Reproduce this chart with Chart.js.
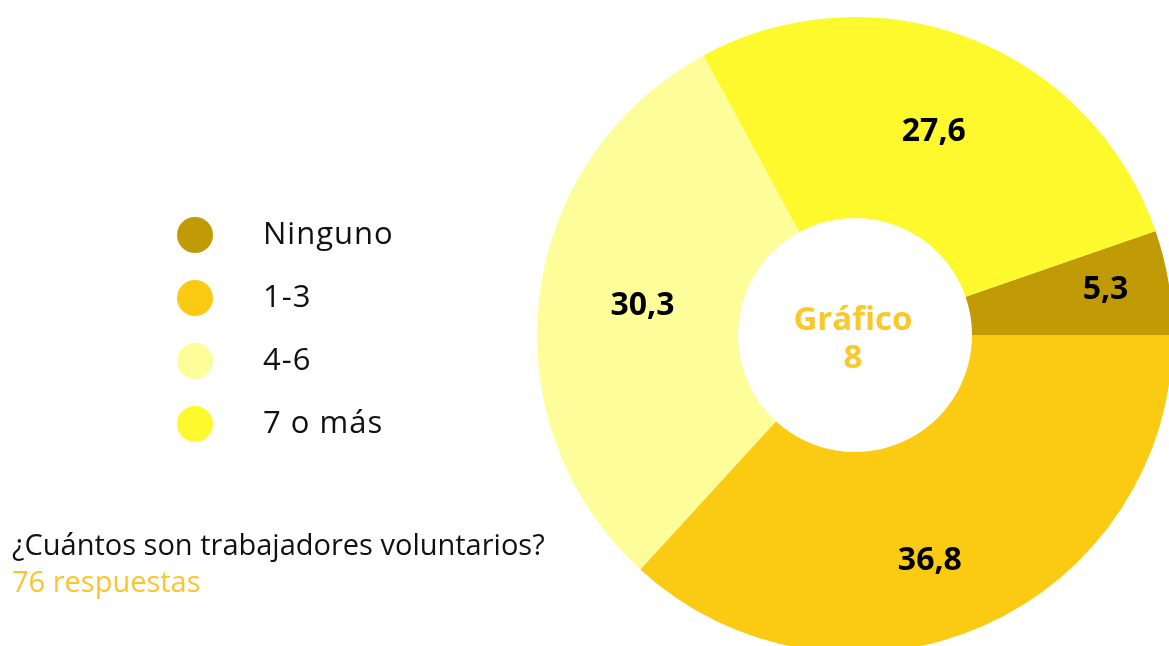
<!DOCTYPE html>
<html>
<head>
<meta charset="utf-8">
<script src="https://cdn.jsdelivr.net/npm/chart.js@4"></script>
<style>
  html, body { margin: 0; padding: 0; background: #fff; }
  body { width: 1169px; height: 646px; overflow: hidden; position: relative; font-family: "Open Sans", sans-serif; }
  #wrap { position: absolute; left: 0; top: 0; width: 1180px; height: 700px; }
  #legend { position: absolute; left: 177px; top: 217px; }
  .row { position: relative; height: 63px; }
  .dot { position: absolute; left: 0; top: 0; width: 36px; height: 36px; border-radius: 50%; }
  .lbl { position: absolute; left: 86px; top: -5px; font-size: 31px; letter-spacing: 1px; color: #111; white-space: nowrap; line-height: 40px; }
  #caption { position: absolute; left: 12px; top: 525px; font-size: 29px; line-height: 37px; color: #111; white-space: nowrap; }
  #caption .sub { color: #fac52f; }
</style>
</head>
<body>
<div id="wrap"><canvas id="chart"></canvas></div>
<div id="legend"></div>
<div id="caption">¿Cuántos son trabajadores voluntarios?<br><span class="sub">76 respuestas</span></div>
<script>
// Data
const categories = ['Ninguno', '1-3', '4-6', '7 o más'];
const values = [5.3, 36.8, 30.3, 27.6];
const colors = ['#c19b05', '#fbcb14', '#fdfd99', '#fdf92c'];
const centerTitle = ['Gráfico', '8'];

// Format number with comma decimal
const formatValue = (v) => v.toFixed(1).replace('.', ',');

// Build legend
const legendEl = document.getElementById('legend');
categories.forEach((name, i) => {
    const row = document.createElement('div');
    row.className = 'row';
    row.innerHTML = `<div class="dot" style="background:${colors[i]}"></div><div class="lbl">${name}</div>`;
    legendEl.appendChild(row);
});

// Slice labels and center text
const labelPlugin = {
    id: 'sliceLabels',
    afterDatasetsDraw(chart) {
        const ctx = chart.ctx;
        const meta = chart.getDatasetMeta(0);
        const extra = [37, 20, -3, 0];
        const turn = [-0.01, 0.094, 0.014, 0];
        ctx.save();
        ctx.textAlign = 'center';
        ctx.textBaseline = 'middle';
        ctx.fillStyle = '#000';
        ctx.font = 'bold 32px "Open Sans"';
        meta.data.forEach((arc, i) => {
            const p = arc.getProps(['x', 'y', 'startAngle', 'endAngle', 'innerRadius', 'outerRadius'], true);
            const mid = (p.startAngle + p.endAngle) / 2 + turn[i];
            const r = (p.innerRadius + p.outerRadius) / 2 + extra[i];
            ctx.fillText(formatValue(values[i]), p.x + Math.cos(mid) * r, p.y + Math.sin(mid) * r);
        });
        const c = meta.data[0];
        ctx.textBaseline = 'alphabetic';
        ctx.fillStyle = '#f9c92c';
        ctx.font = 'bold 33px "Open Sans"';
        ctx.fillText(centerTitle[0], c.x - 2, c.y - 5);
        ctx.fillText(centerTitle[1], c.x - 2, c.y + 33);
        ctx.restore();
    }
};

const ctx = document.getElementById('chart').getContext('2d');
const chart = new Chart(ctx, {
    type: 'doughnut',
    data: {
        labels: categories,
        datasets: [{
            data: values,
            backgroundColor: colors,
            borderWidth: 0,
            hoverOffset: 0
        }]
    },
    options: {
        responsive: true,
        maintainAspectRatio: false,
        animation: false,
        rotation: 90 - values[0] * 3.6,
        cutout: '36.8%',
        layout: { padding: { left: 537, right: 7, top: 17, bottom: 47 } },
        plugins: {
            legend: { display: false },
            tooltip: { enabled: false }
        }
    },
    plugins: [labelPlugin]
});
</script>
</body>
</html>
